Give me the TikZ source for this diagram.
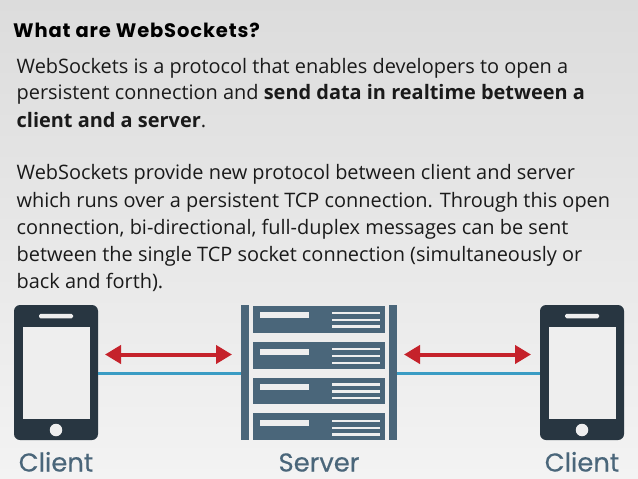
\documentclass[tikz,border=0pt]{standalone}
\usepackage{fontspec}
\setmainfont{Open Sans}
\newfontfamily\headfont[LetterSpace=4.4]{Poppins}
\newfontfamily\labelfont[FakeBold=0.35]{Poppins}
\usetikzlibrary{arrows.meta}
\definecolor{phonecol}{HTML}{283641}
\definecolor{servercol}{HTML}{4A667A}
\definecolor{redcol}{HTML}{C5222B}
\definecolor{bluecol}{HTML}{3A9CC4}
\definecolor{bgtop}{HTML}{DCDCDC}
\definecolor{bgbot}{HTML}{F3F3F3}
\definecolor{shine}{HTML}{EEEEEE}
\definecolor{bodycol}{HTML}{1A1A1A}
\tikzset{
  x=1pt,y=-1pt,
  phonebody/.style={fill=phonecol,draw=none,rounded corners=6pt,minimum width=84pt,minimum height=135pt,inner sep=0pt,outer sep=0pt},
  phonescreen/.style={fill=shine,draw=none,minimum width=67pt,minimum height=92pt,inner sep=0pt,outer sep=0pt},
  phonespeaker/.style={fill=shine,draw=none,rounded corners=1.5pt,minimum width=34pt,minimum height=4.5pt,inner sep=0pt},
  phonebutton/.style={fill=shine,draw=none,circle,minimum size=12.5pt,inner sep=0pt},
  sidebar/.style={fill=servercol,draw=none,minimum width=8pt,minimum height=135pt,inner sep=0pt,outer sep=0pt},
  rack/.style={fill=servercol,draw=none,minimum width=132pt,minimum height=26.5pt,inner sep=0pt,outer sep=0pt},
  slot/.style={fill=shine,draw=none,minimum width=49pt,minimum height=6pt,inner sep=0pt},
  vent/.style={fill=shine,draw=none,minimum width=48pt,minimum height=2.4pt,inner sep=0pt},
  redarrow/.style={draw=redcol,line width=4pt,{Triangle[length=16pt,width=18pt]}-{Triangle[length=16pt,width=18pt]}},
  blueline/.style={draw=bluecol,line width=3pt},
  bodytext/.style={anchor=base west,inner sep=0pt,text=bodycol,font=\fontsize{19.93}{24}\selectfont},
  headtext/.style={anchor=base west,inner sep=0pt,text=black,font=\headfont\bfseries\fontsize{19.5}{24}\selectfont},
  devlabel/.style={anchor=base,inner sep=0pt,text=servercol,font=\labelfont\fontsize{25.8}{30}\selectfont},
}
\begin{document}
\begin{tikzpicture}
\useasboundingbox (0,0) rectangle (638,479);
\shade[top color=bgtop,bottom color=bgbot] (0,0) rectangle (638,479);
\node[headtext] (title) at (13,37) {What are WebSockets?};
\node[bodytext] (l1) at (16.5,73.5) {WebSockets is a protocol that enables developers to open a};
\node[bodytext] (l2) at (16.5,99) {persistent connection and \textbf{send data in realtime between a}};
\node[bodytext] (l3) at (16.5,127) {\textbf{client and a server}.};
\node[bodytext] (l4) at (16.5,179) {WebSockets provide new protocol between client and server};
\node[bodytext] (l5) at (16.5,207) {which runs over a persistent TCP connection. Through this open};
\node[bodytext] (l6) at (16.5,234) {connection, bi-directional, full-duplex messages can be sent};
\node[bodytext] (l7) at (16.5,261) {between the single TCP socket connection (simultaneously or};
\node[bodytext] (l8) at (16.5,288) {back and forth).};
% left phone
\node[phonebody] (phoneL) at (56,372.5) {};
\node[phonescreen] (screenL) at (56,373) {};
\node[phonespeaker] (speakerL) at (56,316) {};
\node[phonebutton] (buttonL) at (56,430) {};
% right phone
\node[phonebody] (phoneR) at (582,372.5) {};
\node[phonescreen] (screenR) at (582,373) {};
\node[phonespeaker] (speakerR) at (582,316) {};
\node[phonebutton] (buttonR) at (582,430) {};
% server
\node[sidebar] (barL) at (245,372.5) {};
\node[sidebar] (barR) at (393,372.5) {};
\foreach \n/\y/\s/\va/\vb/\vc in {a/319.5/315/313/320/326.5,b/355.5/351.5/349/356/363,c/391/387/384.5/391.5/398,d/426.5/423/421/428/434.5}{
  \node[rack] (rack\n) at (319,\y) {};
  \node[slot] (slot\n) at (284.5,\s) {};
  \node[vent] (vent\n1) at (356,\va) {};
  \node[vent] (vent\n2) at (356,\vb) {};
  \node[vent] (vent\n3) at (356,\vc) {};
}
% connectors
\coordinate (redLa) at (105,354.5);
\coordinate (redLb) at (232,354.5);
\coordinate (redRa) at (404,354.5);
\coordinate (redRb) at (531,354.5);
\coordinate (blueY) at (0,373);
\draw[blueline] (phoneL.east |- blueY) -- (barL.west |- blueY);
\draw[blueline] (barR.east |- blueY) -- (phoneR.west |- blueY);
\draw[redarrow] (redLa) -- (redLb);
\draw[redarrow] (redRa) -- (redRb);
% labels
\node[devlabel] (labL) at (56,471.5) {Client};
\node[devlabel] (labS) at (319,471.5) {Server};
\node[devlabel] (labR) at (582,471.5) {Client};
\end{tikzpicture}
\end{document}
